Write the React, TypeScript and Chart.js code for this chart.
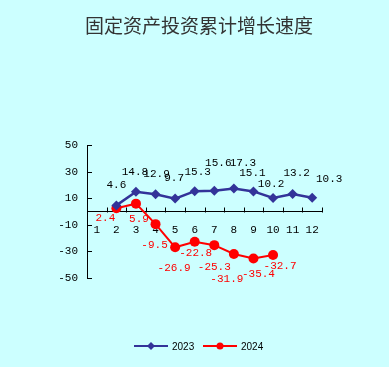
import React, { useEffect, useRef } from "react";
import { Chart, registerables } from "chart.js";

Chart.register(...registerables);

const TITLE = "固定资产投资累计增长速度";
const MONTHS = ["1", "2", "3", "4", "5", "6", "7", "8", "9", "10", "11", "12"];
const SERIES_2023_NAME = "2023";
const SERIES_2024_NAME = "2024";
const VALUES_2023: (number | null)[] = [null, 4.6, 14.8, 12.9, 9.7, 15.3, 15.6, 17.3, 15.1, 10.2, 13.2, 10.3];
const VALUES_2024: (number | null)[] = [null, 2.4, 5.9, -9.5, -26.9, -22.8, -25.3, -31.9, -35.4, -32.7, null, null];
const Y_MIN = -50;
const Y_MAX = 50;
const Y_STEP = 20;

// label offsets (dx, dy) relative to the point, in px
const LABEL_OFF_2023: [number, number][] = [
  [0, 0], [0, -20], [-1, -20], [1, -20], [-1, -21], [3, -19], [4, -28], [9, -25], [-1, -18], [-2, -14], [4, -21], [17, -19],
];
const LABEL_OFF_2024: [number, number][] = [
  [0, 0], [-11, 10], [3, 15], [-1, 21], [-1, 21], [1, 11], [0, 22], [-7, 25], [5, 16], [7, 11], [0, 0], [0, 0],
];

const BLUE = "#333399";
const RED = "#FF0000";
const BG = "#CCFFFF";
const MONO = "'Liberation Mono', 'DejaVu Sans Mono', monospace";

const customPlugin = {
  id: "custom",
  beforeDraw(chart: any) {
    const { ctx, width, height } = chart;
    ctx.save();
    ctx.fillStyle = "#FFFFFF";
    ctx.fillRect(0, 0, width, height);
    ctx.fillStyle = BG;
    ctx.fillRect(0, 0, width - 1, height - 1);
    ctx.restore();
  },
  afterDraw(chart: any) {
    const { ctx, chartArea } = chart;
    const y = chart.scales.y;
    ctx.save();
    ctx.strokeStyle = "#000";
    ctx.lineWidth = 1;
    // y ticks inward
    for (const t of y.ticks) {
      const py = Math.round(y.getPixelForValue(t.value)) + 0.5;
      ctx.beginPath();
      ctx.moveTo(chartArea.left, py);
      ctx.lineTo(chartArea.left + 5, py);
      ctx.stroke();
    }
    // x ticks upward at category boundaries
    const y0 = Math.round(y.getPixelForValue(0)) + 0.5;
    const step = (chartArea.right - chartArea.left) / MONTHS.length;
    for (let i = 0; i <= MONTHS.length; i++) {
      const px = Math.round(chartArea.left + i * step) + 0.5;
      ctx.beginPath();
      ctx.moveTo(px, y0 - 5);
      ctx.lineTo(px, y0);
      ctx.stroke();
    }

    // data labels
    ctx.font = `11px ${MONO}`;
    ctx.textAlign = "center";
    ctx.textBaseline = "middle";
    const drawLabels = (dsIndex: number, values: (number | null)[], offs: [number, number][], color: string) => {
      const meta = chart.getDatasetMeta(dsIndex);
      ctx.fillStyle = color;
      values.forEach((v, i) => {
        if (v === null) return;
        const el = meta.data[i];
        ctx.fillText(String(v), el.x + offs[i][0], el.y + offs[i][1]);
      });
    };
    drawLabels(0, VALUES_2023, LABEL_OFF_2023, "#000");
    drawLabels(1, VALUES_2024, LABEL_OFF_2024, RED);

    // title
    ctx.fillStyle = "#333";
    ctx.font = "19px 'Noto Sans CJK SC', sans-serif";
    ctx.textAlign = "center";
    ctx.fillText(TITLE, 199, 26);

    // legend
    const ly = 346;
    const items: [string, string, string, number][] = [
      [SERIES_2023_NAME, BLUE, "rectRot", 134],
      [SERIES_2024_NAME, RED, "circle", 203],
    ];
    for (const [name, color, style, lx] of items) {
      ctx.strokeStyle = color;
      ctx.lineWidth = 2;
      ctx.beginPath();
      ctx.moveTo(lx, ly);
      ctx.lineTo(lx + 34, ly);
      ctx.stroke();
      ctx.fillStyle = color;
      ctx.beginPath();
      if (style === "rectRot") {
        ctx.moveTo(lx + 17, ly - 4);
        ctx.lineTo(lx + 21, ly);
        ctx.lineTo(lx + 17, ly + 4);
        ctx.lineTo(lx + 13, ly);
        ctx.closePath();
      } else {
        ctx.arc(lx + 17, ly, 3.5, 0, Math.PI * 2);
      }
      ctx.fill();
      ctx.fillStyle = "#000";
      ctx.font = "10px 'Liberation Sans', Arial, sans-serif";
      ctx.textAlign = "left";
      ctx.fillText(name, lx + 38, ly + 1);
    }
    ctx.restore();
  },
};

export default function App() {
  const ref = useRef<HTMLCanvasElement>(null);
  useEffect(() => {
    document.body.style.margin = "0";
    const chart = new Chart(ref.current!, {
      type: "line",
      data: {
        labels: MONTHS,
        datasets: [
          {
            label: SERIES_2023_NAME,
            data: VALUES_2023,
            borderColor: BLUE,
            backgroundColor: BLUE,
            borderWidth: 2.5,
            pointStyle: "rectRot",
            pointRadius: 5,
            pointBorderWidth: 0,
            spanGaps: false,
          },
          {
            label: SERIES_2024_NAME,
            data: VALUES_2024,
            borderColor: RED,
            backgroundColor: RED,
            borderWidth: 2,
            pointStyle: "circle",
            pointRadius: 5,
            pointBorderWidth: 0,
          },
        ],
      },
      options: {
        animation: false,
        responsive: false,
        maintainAspectRatio: false,
        layout: { padding: { left: 47, right: 68, top: 145, bottom: 90 } },
        plugins: { legend: { display: false }, title: { display: false }, tooltip: { enabled: false } },
        scales: {
          x: {
            type: "category",
            position: { y: 0 } as any,
            offset: true,
            grid: { display: false, drawTicks: false },
            border: { display: true, color: "#000", width: 1 },
            ticks: { color: "#000", font: { family: MONO, size: 11 }, padding: 12, maxRotation: 0, autoSkip: false },
          },
          y: {
            min: Y_MIN,
            max: Y_MAX,
            afterFit: (s: any) => { s.width = 40; },
            grid: { display: false, drawTicks: false },
            border: { display: true, color: "#000", width: 1 },
            ticks: { stepSize: Y_STEP, color: "#000", font: { family: MONO, size: 11 }, padding: 9 },
          },
        },
      },
      plugins: [customPlugin],
    });
    return () => chart.destroy();
  }, []);
  return <canvas ref={ref} width={390} height={368} style={{ display: "block", width: 390, height: 368 }} />;
}
